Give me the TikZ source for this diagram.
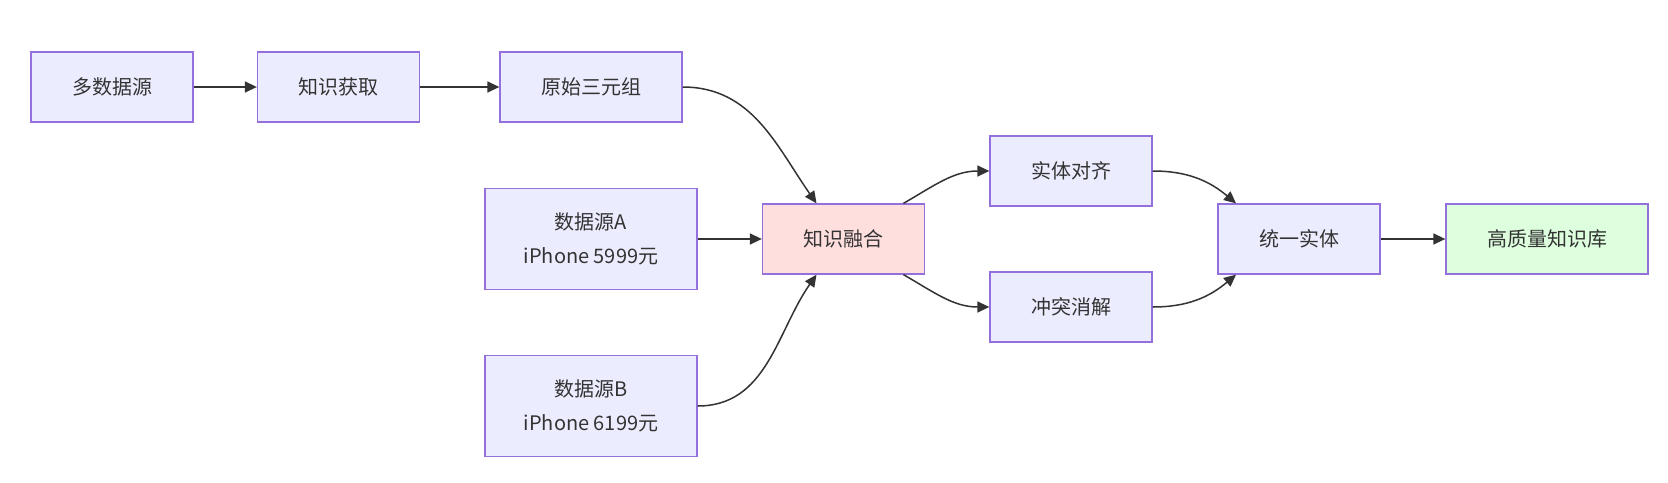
\documentclass[tikz,border=0pt]{standalone}
\usepackage{fontspec}
\setmainfont{Noto Sans CJK SC}
\usetikzlibrary{arrows.meta}
\definecolor{boxfill}{HTML}{ECECFF}
\definecolor{boxline}{HTML}{9370DB}
\definecolor{fusefill}{HTML}{FFDEDE}
\definecolor{kbfill}{HTML}{DEFFDE}
\definecolor{edgeline}{HTML}{333333}
\begin{document}
\begin{tikzpicture}[x=1pt, y=-1pt,
	stage/.style={shape=rectangle, draw=boxline, fill=boxfill, line width=1.3pt, inner xsep=41pt, minimum height=70pt, align=center, font=\fontsize{20}{34}\selectfont, text=black!80},
	source/.style={stage, inner xsep=10pt, minimum width=212pt, minimum height=101pt},
	flow/.style={draw=edgeline, line width=1.5pt, -{Triangle[length=12pt, width=11pt]}}]
	\useasboundingbox (0, 0) rectangle (1668, 482);
	% Nodes:
	\node[stage] (multi) at (112, 87){多数据源};
	\node[stage] (acquire) at (338.5, 87){知识获取};
	\node[stage] (triples) at (591, 87){原始三元组};
	\node[source] (srcA) at (591, 239){数据源A\\iPhone 5999元};
	\node[source] (srcB) at (591, 406){数据源B\\iPhone 6199元};
	\node[stage, fill=fusefill] (fusion) at (843.5, 239){知识融合};
	\node[stage] (align) at (1071, 171){实体对齐};
	\node[stage] (resolve) at (1071, 307){冲突消解};
	\node[stage] (unify) at (1299, 239){统一实体};
	\node[stage, fill=kbfill] (kb) at (1547, 239){高质量知识库};
	% Connectors:
	\draw[flow] (multi) -- (acquire);
	\draw[flow] (acquire) -- (triples);
	\draw[flow] (triples.east) to[out=0, in=125] ([xshift=-27pt]fusion.north);
	\draw[flow] (srcA.east) -- (fusion.west);
	\draw[flow] (srcB.east) to[out=0, in=-125] ([xshift=-27pt]fusion.south);
	\draw[flow] ([xshift=60pt]fusion.north) to[out=30, in=180] (align.west);
	\draw[flow] ([xshift=60pt]fusion.south) to[out=-30, in=180] (resolve.west);
	\draw[flow] (align.east) to[out=0, in=140] ([xshift=-63pt]unify.north);
	\draw[flow] (resolve.east) to[out=0, in=-140] ([xshift=-63pt]unify.south);
	\draw[flow] (unify) -- (kb);
\end{tikzpicture}
\end{document}
